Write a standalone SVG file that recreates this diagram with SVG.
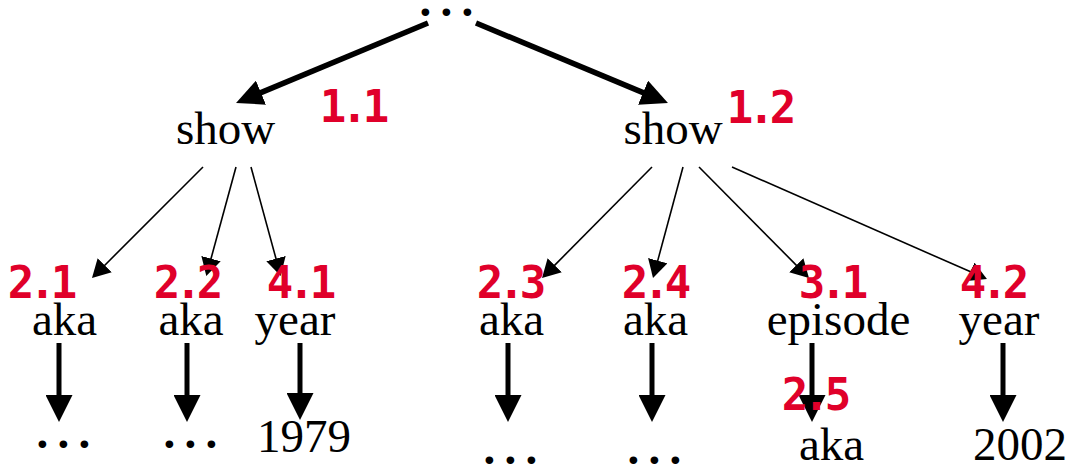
<svg xmlns="http://www.w3.org/2000/svg" width="1071" height="467" viewBox="0 0 1071 467">
<defs>
<style>
.t{font-family:"Liberation Serif","Times New Roman",serif;font-size:47px;fill:#000;text-anchor:middle}
.d{font-family:"Liberation Serif","Times New Roman",serif;font-size:47px;font-weight:bold;fill:#000;letter-spacing:-1.25px}
.n{font-family:"DejaVu Sans Mono","Liberation Mono",monospace;font-size:44px;font-weight:bold;fill:#e0002a;text-anchor:middle;letter-spacing:-5px}
.thick{stroke:#000;stroke-width:5.5;fill:none;marker-end:url(#bigHead)}
.thin{stroke:#000;stroke-width:1.6;fill:none;marker-end:url(#smallHead)}
.down{stroke:#000;stroke-width:5;fill:none;marker-end:url(#downHead)}
</style>
<marker id="bigHead" markerUnits="userSpaceOnUse" viewBox="0 -13 27 26" markerWidth="27" markerHeight="26" refX="2" refY="0" orient="auto"><path d="M0,-13 L27,0 L0,13 Z" fill="#000"/></marker>
<marker id="smallHead" markerUnits="userSpaceOnUse" viewBox="0 -10 18 20" markerWidth="18" markerHeight="20" refX="2" refY="0" orient="auto"><path d="M0,-10 L18,0 L0,10 Z" fill="#000"/></marker>
<marker id="downHead" markerUnits="userSpaceOnUse" viewBox="0 -13.5 27 27" markerWidth="27" markerHeight="27" refX="2" refY="0" orient="auto"><path d="M0,-13.5 L27,0 L0,13.5 Z" fill="#000"/></marker>
</defs>
<rect width="1071" height="467" fill="#fff"/>

<g id="connectors">
<line class="thick" x1="428" y1="23" x2="259.1" y2="93.4"/>
<line class="thick" x1="476" y1="23" x2="644.9" y2="93.4"/>
<line class="thin" x1="203" y1="167" x2="103.3" y2="266.7"/>
<line class="thin" x1="236" y1="167" x2="210.5" y2="260.5"/>
<line class="thin" x1="251" y1="167" x2="276.5" y2="260.5"/>
<line class="thin" x1="652" y1="167" x2="553.3" y2="266.6"/>
<line class="thin" x1="683" y1="167" x2="657.2" y2="262.6"/>
<line class="thin" x1="699" y1="167" x2="797.7" y2="266.6"/>
<line class="thin" x1="732" y1="167" x2="972.3" y2="272.6"/>
<line class="down" x1="59" y1="343" x2="59" y2="397"/>
<line class="down" x1="187" y1="343" x2="187" y2="397"/>
<line class="down" x1="300" y1="343" x2="300" y2="395"/>
<line class="down" x1="508" y1="343" x2="508" y2="397"/>
<line class="down" x1="652" y1="343" x2="652" y2="397"/>
<line class="down" x1="812" y1="343" x2="812" y2="397"/>
<line class="down" x1="1003" y1="343" x2="1003" y2="397"/>
</g>

<g id="root"><text class="d" x="419.5" y="15.5">. . .</text></g>
<g id="show1"><text class="t" x="225.5" y="144">show</text></g>
<g id="show2"><text class="t" x="673" y="144">show</text></g>
<g id="aka1"><text class="t" x="64.5" y="335">aka</text></g>
<g id="aka2"><text class="t" x="191" y="335">aka</text></g>
<g id="year1"><text class="t" x="295" y="335">year</text></g>
<g id="aka3"><text class="t" x="511.5" y="335">aka</text></g>
<g id="aka4"><text class="t" x="655.5" y="335">aka</text></g>
<g id="episode"><text class="t" x="838.5" y="335">episode</text></g>
<g id="year2"><text class="t" x="999" y="335">year</text></g>
<g id="dots1"><text class="d" x="36.5" y="447.5">. . .</text></g>
<g id="dots2"><text class="d" x="163.5" y="447.5">. . .</text></g>
<g id="val1979"><text class="t" x="304" y="452">1979</text></g>
<g id="dots3"><text class="d" x="483.5" y="463.5">. . .</text></g>
<g id="dots4"><text class="d" x="627.5" y="463.5">. . .</text></g>
<g id="aka5"><text class="t" x="831.5" y="460">aka</text></g>
<g id="val2002"><text class="t" x="1020" y="460">2002</text></g>

<g id="order-labels">
<text class="n" x="352" y="122">1.1</text>
<text class="n" x="759" y="123">1.2</text>
<text class="n" x="40" y="298">2.1</text>
<text class="n" x="186" y="298">2.2</text>
<text class="n" x="299" y="298">4.1</text>
<text class="n" x="509" y="298">2.3</text>
<text class="n" x="654" y="298">2.4</text>
<text class="n" x="831" y="298">3.1</text>
<text class="n" x="992" y="298">4.2</text>
<text class="n" x="814" y="410">2.5</text>
</g>
</svg>
